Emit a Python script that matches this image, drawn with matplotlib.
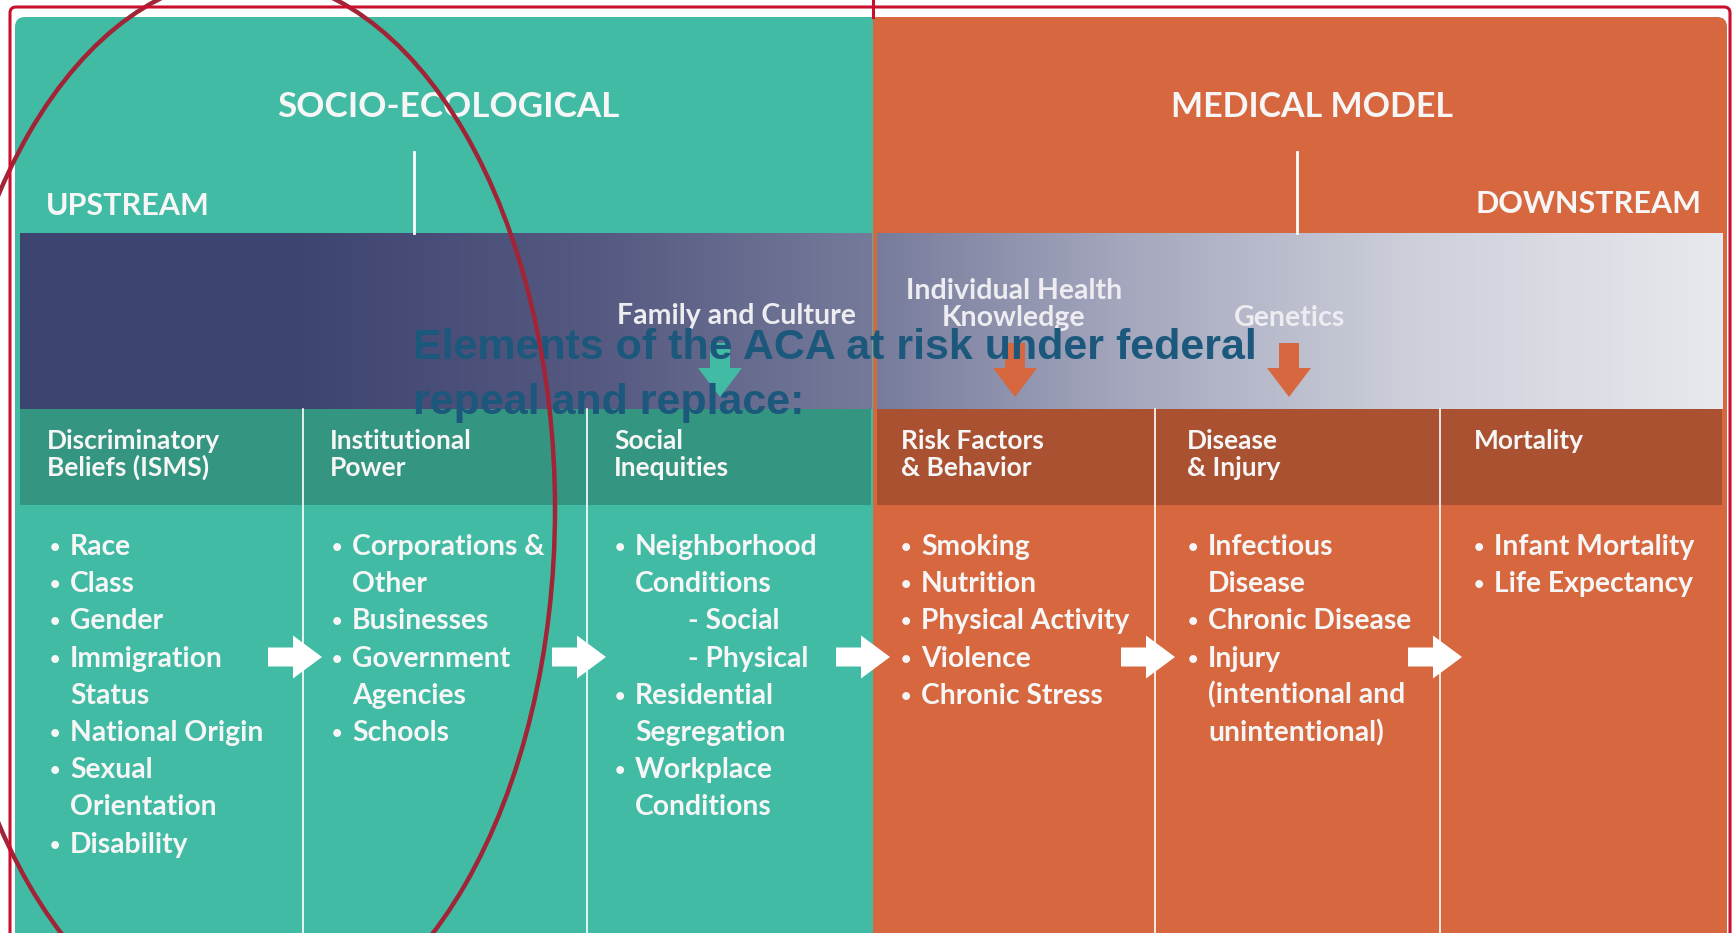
import numpy as np
import matplotlib
matplotlib.use("Agg")
import matplotlib.pyplot as plt
from matplotlib.patches import FancyBboxPatch, Rectangle, Polygon, Ellipse

plt.rcParams['font.family'] = ['Lato', 'DejaVu Sans']

# ---- content ----
model_titles = ["SOCIO-ECOLOGICAL", "MEDICAL MODEL"]
stream_labels = ["UPSTREAM", "DOWNSTREAM"]
col_titles = ["Discriminatory\nBeliefs (ISMS)", "Institutional\nPower", "Social\nInequities",
              "Risk Factors\n& Behavior", "Disease\n& Injury", "Mortality"]
col_items = [
    ["Race", "Class", "Gender", "Immigration\nStatus", "National Origin",
     "Sexual\nOrientation", "Disability"],
    ["Corporations &\nOther", "Businesses", "Government\nAgencies", "Schools"],
    ["Neighborhood\nConditions", "- Social", "- Physical", "Residential\nSegregation",
     "Workplace\nConditions"],
    ["Smoking", "Nutrition", "Physical Activity", "Violence", "Chronic Stress"],
    ["Infectious\nDisease", "Chronic Disease", "Injury\n(intentional and\nunintentional)"],
    ["Infant Mortality", "Life Expectancy"],
]
band_labels = ["Family and Culture", "Individual Health\nKnowledge", "Genetics"]
title = "Elements of the ACA at risk under federal\nrepeal and replace:"

# ---- colours ----
TEAL = "#41bba4"
TEAL_HEAD = "#349680"
ORANGE = "#d6673e"
ORANGE_HEAD = "#aa5131"
WHITE = "#f6f6f6"
RED = "#c8102e"
ELLIPSE_RED = "#a12537"
TITLE_BLUE = "#1b587c"

W, H = 1735, 933
fig = plt.figure(figsize=(W / 100, H / 100), dpi=100)
ax = fig.add_axes([0, 0, 1, 1])
ax.set_xlim(0, W)
ax.set_ylim(H, 0)
ax.axis('off')

# main boxes (rounded top corners only on the outside)
ax.add_patch(FancyBboxPatch((15, 17), 858, 1000, boxstyle="round,pad=0,rounding_size=10",
                            fc=TEAL, ec='none', zorder=1))
ax.add_patch(Rectangle((840, 17), 33, 1000, fc=TEAL, ec='none', zorder=1))
ax.add_patch(FancyBboxPatch((873, 17), 854, 1000, boxstyle="round,pad=0,rounding_size=10",
                            fc=ORANGE, ec='none', zorder=1))
ax.add_patch(Rectangle((873, 17), 33, 1000, fc=ORANGE, ec='none', zorder=1))

# gradient band
gx = [20, 290, 600, 871, 877, 1130, 1414, 1600, 1722]
gc = np.array([(61, 68, 112), (61, 68, 112), (86, 90, 129), (118, 122, 154), (120, 124, 156),
               (165, 168, 190), (205, 207, 218), (222, 223, 230), (232, 233, 238)]) / 255.0
for x0, x1 in [(20, 871), (877, 1722)]:
    xs = np.linspace(x0, x1, 400)
    img = np.stack([np.interp(xs, gx, gc[:, k]) for k in range(3)], axis=-1)[None, :, :]
    ax.imshow(img, extent=[x0, x1, 409, 233], aspect='auto', zorder=2, interpolation='bilinear')
ax.set_xlim(0, W)
ax.set_ylim(H, 0)

# header rows
ax.add_patch(Rectangle((20, 409), 851, 96, fc=TEAL_HEAD, ec='none', zorder=2))
ax.add_patch(Rectangle((877, 409), 845, 96, fc=ORANGE_HEAD, ec='none', zorder=2))

# dividers
for x in [303, 587, 1155, 1440]:
    ax.plot([x, x], [409, H], color='white', lw=1.2, zorder=3)
for x in [414, 1297]:
    ax.plot([x, x], [152, 233], color='white', lw=2, zorder=3)

# titles
ax.text(448, 117, model_titles[0], color=WHITE, fontsize=25.2, fontweight='bold',
        ha='center', va='baseline', zorder=4)
ax.text(1312, 117, model_titles[1], color=WHITE, fontsize=24.5, fontweight='bold',
        ha='center', va='baseline', zorder=4)
ax.text(46, 215, stream_labels[0], color=WHITE, fontsize=22, fontweight='bold',
        ha='left', va='baseline', zorder=4)
ax.text(1701, 213, stream_labels[1], color=WHITE, fontsize=22, fontweight='bold',
        ha='right', va='baseline', zorder=4)

# band labels
BAND_TXT = "#ececf1"
ax.text(617, 324, band_labels[0], color=BAND_TXT, fontsize=20.5, fontweight='bold',
        ha='left', va='baseline', zorder=4)
l1, l2 = band_labels[1].split("\n")
ax.text(1014, 299, l1, color=BAND_TXT, fontsize=20.5, fontweight='bold',
        ha='center', va='baseline', zorder=4)
ax.text(1014, 326, l2, color=BAND_TXT, fontsize=20.5, fontweight='bold',
        ha='center', va='baseline', zorder=4)
ax.text(1289, 326, band_labels[2], color=BAND_TXT, fontsize=20.5, fontweight='bold',
        ha='center', va='baseline', zorder=4)

# down arrows in band
def down_arrow(cx, color):
    pts = [(cx - 10, 343), (cx + 10, 343), (cx + 10, 368), (cx + 22, 368), (cx, 397),
           (cx - 22, 368), (cx - 10, 368)]
    ax.add_patch(Polygon(pts, closed=True, fc=color, ec='none', zorder=3))

down_arrow(720, TEAL)
down_arrow(1015, ORANGE)
down_arrow(1289, ORANGE)

# columns
head_x = [47, 330, 614, 901, 1187, 1474]
dot_x = [55, 337, 620, 906, 1193, 1479]
for c in range(6):
    for k, line in enumerate(col_titles[c].split("\n")):
        ax.text(head_x[c], 449 + 27 * k, line, color=WHITE, fontsize=19, fontweight='bold',
                ha='left', va='baseline', zorder=4)
    n = 0
    for item in col_items[c]:
        tx = dot_x[c] + 15
        if item.startswith("- "):
            ax.text(tx + 53, 555 + 37.2 * n, item, color=WHITE, fontsize=20.3,
                    fontweight='bold', ha='left', va='baseline', zorder=4)
            n += 1
            continue
        ax.text(dot_x[c], 553 + 37.2 * n, "•", color=WHITE, fontsize=13, fontweight='bold',
                ha='center', va='baseline', zorder=4)
        for line in item.split("\n"):
            ax.text(tx, 555 + 37.2 * n, line, color=WHITE, fontsize=20.3,
                    fontweight='bold', ha='left', va='baseline', zorder=4)
            n += 1

# right arrows
def right_arrow(x0):
    cy = 657
    pts = [(x0, cy - 9.5), (x0 + 25, cy - 9.5), (x0 + 25, cy - 21.5), (x0 + 54, cy),
           (x0 + 25, cy + 21.5), (x0 + 25, cy + 9.5), (x0, cy + 9.5)]
    ax.add_patch(Polygon(pts, closed=True, fc='white', ec='none', zorder=5))

for x in [268, 552, 836, 1121, 1408]:
    right_arrow(x)

# overlaid title
t1, t2 = title.split("\n")
ax.text(413, 359, t1, color=TITLE_BLUE, fontsize=31, fontweight='bold',
        family=['Liberation Sans', 'DejaVu Sans'], ha='left', va='baseline', zorder=6)
ax.text(413, 414, t2, color=TITLE_BLUE, fontsize=31, fontweight='bold',
        family=['Liberation Sans', 'DejaVu Sans'], ha='left', va='baseline', zorder=6)

# red ellipse and frame
ax.add_patch(Ellipse((247, 509), 616, 1064, fill=False, ec=ELLIPSE_RED, lw=3.2, zorder=7))
ax.add_patch(FancyBboxPatch((10, 7), 1720, 1000, boxstyle="round,pad=0,rounding_size=6",
                            fill=False, ec=RED, lw=2.2, zorder=7))
ax.plot([873, 873], [0, 17], color=RED, lw=2.2, zorder=7)

fig.savefig("out.png", dpi=100)
